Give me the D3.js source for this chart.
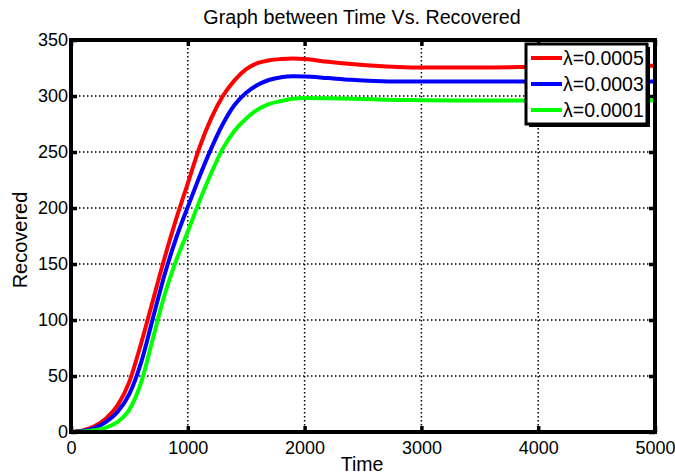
<!DOCTYPE html>
<html><head><meta charset="utf-8">
<script src="https://cdn.jsdelivr.net/npm/d3@7"></script>
<style>body{margin:0;background:#fff}svg{display:block}text{font-family:"Liberation Sans",Arial,sans-serif}</style>
</head><body>
<svg id="c" width="675" height="475"></svg>
<script>
const time  = [0,100,200,300,400,500,600,700,800,900,1000,1100,1200,1300,1400,1500,1600,1700,1800,1900,2000,2200,2400,2600,2800,3000,3500,4000,4500,5000];
const red   = [0,1.5,5,12,24,45,79,117,155,190,222,254,280,300,314,324,329.5,332,333,333.4,333,330.5,328.5,327,326,325.5,325.5,326,326.5,327];
const blue  = [0,1,3.5,9,18,34,62,101,140,173,201,228,253,275,292,303,310,314.5,316.8,317.6,317.5,316,314.5,313.5,313,313,313,313,313,313];
const green = [0,0.4,1.5,4,9,20,44,83,122,153,179,206,231,253,269,280,288,293,295.5,297.5,298.3,298,297.5,297,296.5,296.3,296,296,296,296];
const seriesNames = ["λ=0.0005","λ=0.0003","λ=0.0001"];
const seriesColors = ["#ff0000","#0000ff","#00ff00"];
const xTicks = [0,1000,2000,3000,4000,5000];
const yTicks = [0,50,100,150,200,250,300,350];

const svg = d3.select("#c");
const L=71, R=655, T=40, B=432;
const x = d3.scaleLinear().domain([0,5000]).range([L,R]);
const y = d3.scaleLinear().domain([0,350]).range([B,T]);

// grid
const g = svg.append("g");
g.selectAll(".vg").data(xTicks.slice(1,-1)).enter().append("line")
 .attr("x1",d=>x(d)).attr("x2",d=>x(d)).attr("y1",T).attr("y2",B)
 .attr("stroke","#000").attr("stroke-width",1.5).attr("stroke-dasharray","1.5,2.5");
g.selectAll(".hg").data(yTicks.slice(1,-1)).enter().append("line")
 .attr("y1",d=>y(d)).attr("y2",d=>y(d)).attr("x1",L).attr("x2",R)
 .attr("stroke","#000").attr("stroke-width",1.5).attr("stroke-dasharray","1.5,2.5");

// lines
const data = [red,blue,green];
const line = d3.line().x((d,i)=>x(time[i])).y(d=>y(d)).curve(d3.curveMonotoneX);
data.forEach((s,k)=>{
  svg.append("path").datum(s).attr("d",line).attr("fill","none")
   .attr("stroke",seriesColors[k]).attr("stroke-width",4);
});

// axes
const fs = "18px";
const xa = svg.append("g").attr("transform",`translate(0,${B})`)
 .call(d3.axisBottom(x).tickValues(xTicks).tickSize(-6).tickPadding(9).tickFormat(d3.format("d")));
const ya = svg.append("g").attr("transform",`translate(${L},0)`)
 .call(d3.axisLeft(y).tickValues(yTicks).tickSize(-6).tickPadding(3).tickFormat(d3.format("d")));
const xt = svg.append("g").attr("transform",`translate(0,${T})`)
 .call(d3.axisTop(x).tickValues(xTicks).tickSize(-6).tickFormat(""));
const yr = svg.append("g").attr("transform",`translate(${R},0)`)
 .call(d3.axisRight(y).tickValues(yTicks).tickSize(-6).tickFormat(""));
[xa,ya,xt,yr].forEach(a=>{
  a.select(".domain").remove();
  a.selectAll(".tick line").attr("stroke","#000").attr("stroke-width",3.5);
  a.selectAll(".tick text").attr("fill","#000").style("font-size",fs);
});
ya.selectAll(".tick text").attr("x",-3);
svg.append("rect").attr("x",L).attr("y",T).attr("width",R-L).attr("height",B-T)
 .attr("fill","none").attr("stroke","#000").attr("stroke-width",4);

// titles
svg.append("text").attr("x",362).attr("y",24).attr("text-anchor","middle").style("font-size","19.7px").text("Graph between Time Vs. Recovered");
svg.append("text").attr("x",362).attr("y",471).attr("text-anchor","middle").style("font-size","19.5px").text("Time");
svg.append("text").attr("transform","translate(27,240) rotate(-90)").attr("text-anchor","middle").style("font-size","20px").text("Recovered");

// legend
const lx=526, ly=44, lw=121, lh=80;
svg.append("rect").attr("x",lx+3).attr("y",ly+3).attr("width",lw).attr("height",lh).attr("fill","#000");
svg.append("rect").attr("x",lx).attr("y",ly).attr("width",lw).attr("height",lh).attr("fill","#fff").attr("stroke","#000").attr("stroke-width",3);
seriesNames.forEach((n,k)=>{
  const yy = ly+14+k*26;
  svg.append("line").attr("x1",lx+5).attr("x2",lx+36).attr("y1",yy).attr("y2",yy).attr("stroke",seriesColors[k]).attr("stroke-width",4);
  svg.append("text").attr("x",lx+37).attr("y",yy+7).style("font-size","19.5px").attr("fill","#000").text(n);
});
</script>
</body></html>
